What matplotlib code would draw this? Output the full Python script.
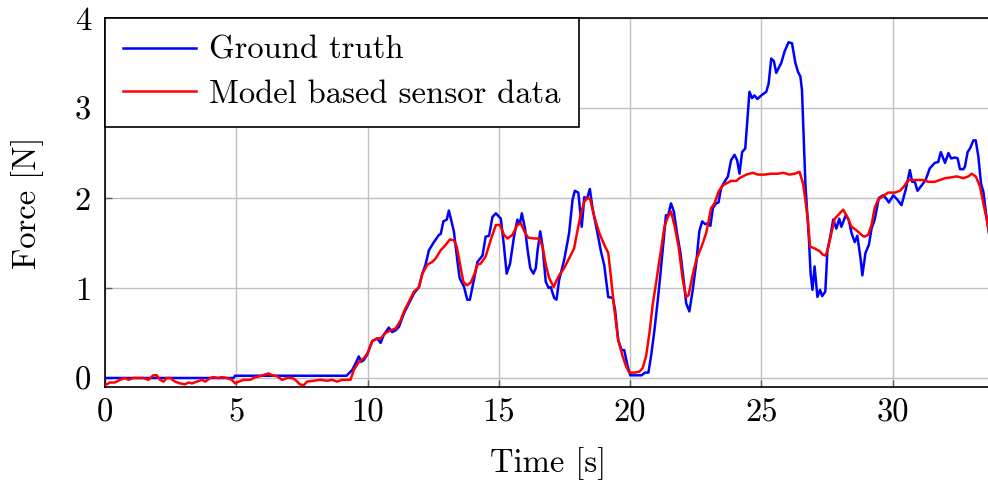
import matplotlib
matplotlib.use("Agg")
import matplotlib.pyplot as plt

# ground truth force
t_truth = [0, 4.9, 4.95, 9.2, 9.42, 9.54, 9.67, 9.76, 9.86, 9.99, 10.18, 10.37, 10.5, 10.62, 10.81, 10.94,
           11.07, 11.2, 11.39, 11.58, 11.77, 11.96, 12.09, 12.21, 12.34, 12.53, 12.72, 12.79, 12.89, 13.02,
           13.1, 13.29, 13.42, 13.51, 13.68, 13.8, 13.9, 14.06, 14.19, 14.38, 14.5, 14.63, 14.76, 14.89,
           15.08, 15.2, 15.3, 15.43, 15.58, 15.71, 15.8, 15.88, 16.0, 16.1, 16.2, 16.32, 16.41, 16.48,
           16.58, 16.67, 16.79, 16.9, 16.98, 17.11, 17.2, 17.3, 17.49, 17.68, 17.81, 17.9, 18.03, 18.16,
           18.26, 18.36, 18.47, 18.57, 18.74, 18.89, 19.02, 19.17, 19.34, 19.43, 19.55, 19.68, 19.78,
           19.91, 20.01, 20.44, 20.57, 20.7, 20.8, 20.93, 21.06, 21.16, 21.29, 21.37, 21.44, 21.56, 21.67,
           21.79, 21.92, 22.05, 22.14, 22.26, 22.39, 22.52, 22.64, 22.75, 22.86, 22.99, 23.06, 23.16,
           23.28, 23.37, 23.47, 23.6, 23.73, 23.85, 23.98, 24.08, 24.17, 24.27, 24.39, 24.47, 24.55,
           24.65, 24.74, 24.85, 25.0, 25.19, 25.28, 25.38, 25.48, 25.57, 25.76, 25.89, 26.04, 26.17,
           26.3, 26.4, 26.49, 26.55, 26.68, 26.81, 26.88, 26.95, 27.03, 27.14, 27.24, 27.32, 27.44,
           27.52, 27.63, 27.74, 27.86, 27.97, 28.05, 28.22, 28.33, 28.44, 28.56, 28.66, 28.79, 28.85,
           28.97, 29.1, 29.2, 29.32, 29.48, 29.64, 29.77, 29.86, 30.03, 30.19, 30.34, 30.5, 30.66,
           30.75, 30.85, 30.95, 31.11, 31.26, 31.42, 31.61, 31.74, 31.84, 32.0, 32.13, 32.23, 32.38,
           32.48, 32.57, 32.7, 32.76, 32.86, 32.95, 33.08, 33.17, 33.27, 33.37, 33.46, 33.56, 33.67, 33.75]
f_truth = [0.0, 0.0, 0.025, 0.025, 0.09, 0.16, 0.24, 0.18, 0.2, 0.26, 0.41, 0.44, 0.39, 0.48, 0.56, 0.51,
           0.53, 0.57, 0.72, 0.83, 0.94, 1.01, 1.16, 1.26, 1.42, 1.51, 1.59, 1.60, 1.74, 1.76,
           1.86, 1.63, 1.31, 1.11, 1.01, 0.87, 0.87, 1.10, 1.29, 1.36, 1.57, 1.58, 1.79, 1.83,
           1.77, 1.46, 1.16, 1.27, 1.57, 1.76, 1.71, 1.83, 1.66, 1.42, 1.22, 1.16, 1.22, 1.42,
           1.63, 1.46, 1.07, 1.0, 1.01, 0.89, 0.87, 1.09, 1.31, 1.61, 1.98, 2.08, 2.06, 1.68,
           2.01, 1.99, 2.10, 1.89, 1.64, 1.41, 1.25, 0.90, 0.89, 0.76, 0.42, 0.31, 0.31,
           0.13, 0.03, 0.03, 0.06, 0.06, 0.24, 0.53, 0.87, 1.16, 1.57, 1.81, 1.79, 1.94, 1.85,
           1.61, 1.39, 1.07, 0.83, 0.74, 0.98, 1.27, 1.63, 1.74, 1.71, 1.72, 1.69, 1.89,
           1.94, 1.95, 2.11, 2.18, 2.24, 2.42, 2.48, 2.42, 2.27, 2.51, 2.55, 2.87, 3.18,
           3.11, 3.14, 3.10, 3.14, 3.18, 3.27, 3.55, 3.52, 3.39, 3.50, 3.63, 3.73, 3.72,
           3.50, 3.40, 3.35, 3.2, 2.16, 1.57, 1.16, 0.98, 1.24, 0.90, 0.98, 0.91, 0.96,
           1.42, 1.57, 1.76, 1.66, 1.77, 1.68, 1.81, 1.76, 1.61, 1.51, 1.58, 1.31, 1.14,
           1.39, 1.48, 1.66, 1.76, 2.0, 2.03, 1.99, 1.95, 2.03, 1.98, 1.92, 2.09, 2.31,
           2.18, 2.18, 2.08, 2.14, 2.2, 2.33, 2.39, 2.40, 2.51, 2.39, 2.50, 2.44, 2.45,
           2.44, 2.32, 2.32, 2.35, 2.51, 2.55, 2.64, 2.64, 2.46, 2.16, 2.07, 1.83, 1.61, 1.52]

# model based sensor data
t_model = [0, 0.19, 0.38, 0.57, 0.76, 0.89, 1.08, 1.46, 1.65, 1.84, 1.97, 2.1, 2.23, 2.35, 2.48, 2.67,
           2.86, 3.05, 3.18, 3.31, 3.5, 3.69, 3.82, 4.01, 4.13, 4.32, 4.45, 4.64, 4.83, 4.96, 5.09,
           5.28, 5.53, 5.73, 5.92, 6.11, 6.23, 6.36, 6.55, 6.74, 6.94, 7.13, 7.25, 7.42, 7.57, 7.7,
           7.95, 8.21, 8.46, 8.65, 8.84, 9.03, 9.35, 9.48, 9.67, 9.86, 9.99, 10.18, 10.37, 10.5,
           10.69, 10.88, 11.07, 11.26, 11.39, 11.58, 11.77, 11.96, 12.09, 12.28, 12.47, 12.6, 12.79,
           12.98, 13.14, 13.29, 13.4, 13.52, 13.65, 13.78, 13.93, 14.08, 14.19, 14.31, 14.5, 14.69,
           14.89, 15.05, 15.2, 15.33, 15.52, 15.71, 15.84, 15.97, 16.12, 16.35, 16.54, 16.67, 16.79,
           16.92, 17.09, 17.21, 17.3, 17.49, 17.68, 17.87, 18.0, 18.13, 18.26, 18.38, 18.48, 18.64,
           18.83, 19.02, 19.17, 19.27, 19.4, 19.55, 19.72, 19.85, 19.97, 20.16, 20.36, 20.48, 20.61,
           20.74, 20.87, 20.99, 21.12, 21.18, 21.31, 21.44, 21.56, 21.69, 21.85, 22.01, 22.14, 22.23,
           22.36, 22.52, 22.75, 22.9, 23.09, 23.22, 23.37, 23.53, 23.66, 23.85, 24.05, 24.17, 24.43,
           24.68, 24.87, 25.13, 25.38, 25.64, 25.83, 26.08, 26.27, 26.46, 26.59, 26.68, 26.78, 26.86,
           27.03, 27.22, 27.35, 27.45, 27.54, 27.67, 27.8, 27.99, 28.12, 28.24, 28.44, 28.63, 28.82,
           28.92, 29.07, 29.2, 29.32, 29.45, 29.64, 29.83, 30.09, 30.28, 30.44, 30.6, 30.85, 31.17,
           31.36, 31.61, 31.81, 32.0, 32.25, 32.44, 32.7, 32.89, 33.01, 33.17, 33.33, 33.46, 33.59,
           33.69, 33.75]
f_model = [-0.08, -0.05, -0.05, -0.02, 0.0, -0.02, 0.0, 0.0, -0.02, 0.03, 0.03, -0.02, -0.04, 0.0, 0.0, -0.04,
           -0.06, -0.07, -0.05, -0.06, -0.04, -0.02, -0.04, 0.0, 0.01, 0.0, 0.01, 0.0, -0.02, -0.06, -0.04,
           -0.02, -0.02, 0.01, 0.02, 0.04, 0.05, 0.03, 0.02, -0.02, 0.0, 0.0, -0.02, -0.07, -0.08, -0.04,
           -0.03, -0.02, -0.03, -0.02, -0.04, -0.02, -0.02, 0.09, 0.18, 0.22, 0.27, 0.41, 0.44, 0.44,
           0.50, 0.53, 0.55, 0.64, 0.74, 0.85, 0.96, 1.01, 1.16, 1.26, 1.29, 1.33, 1.42,
           1.48, 1.54, 1.53, 1.46, 1.27, 1.07, 1.03, 1.06, 1.16, 1.26, 1.27, 1.35, 1.53,
           1.70, 1.70, 1.59, 1.55, 1.59, 1.70, 1.72, 1.63, 1.56, 1.55, 1.55, 1.46, 1.26,
           1.11, 1.01, 1.09, 1.14, 1.22, 1.33, 1.44, 1.64, 1.83, 1.96, 2.0, 1.99, 1.79,
           1.61, 1.48, 1.39, 1.13, 0.77, 0.42, 0.24, 0.13, 0.06, 0.06, 0.07, 0.11, 0.24,
           0.50, 0.83, 1.05, 1.31, 1.42, 1.68, 1.79, 1.85, 1.70, 1.46, 1.09, 0.90, 0.92,
           1.11, 1.31, 1.48, 1.61, 1.89, 1.94, 2.07, 2.14, 2.16, 2.19, 2.19, 2.22, 2.26,
           2.28, 2.26, 2.26, 2.27, 2.27, 2.28, 2.26, 2.27, 2.29, 2.16, 1.98, 1.74, 1.46,
           1.44, 1.41, 1.37, 1.36, 1.44, 1.61, 1.77, 1.83, 1.87, 1.81, 1.68, 1.64, 1.59,
           1.57, 1.59, 1.70, 1.89, 1.98, 2.02, 2.06, 2.06, 2.08, 2.13, 2.2, 2.2, 2.2,
           2.18, 2.18, 2.2, 2.22, 2.23, 2.24, 2.22, 2.24, 2.27, 2.24, 2.13, 1.94, 1.76,
           1.59, 1.52]

x_ticks = [0, 5, 10, 15, 20, 25, 30]
y_ticks = [0, 1, 2, 3, 4]

plt.rcParams['font.family'] = 'cmr10'
plt.rcParams['axes.unicode_minus'] = False
plt.rcParams['font.size'] = 23.5

fig = plt.figure(figsize=(9.88, 4.82), dpi=100)
ax = fig.add_axes([105 / 988, 1 - 387 / 482, 1.003 - 105 / 988, (387 - 18) / 482])

ax.plot(t_truth, f_truth, color='#0000ff', lw=1.8, label='Ground truth', zorder=3)
ax.plot(t_model, f_model, color='#ff0000', lw=1.8, label='Model based sensor data', zorder=4)

ax.set_xlim(0, 33.75)
ax.set_ylim(-0.1, 4)
ax.set_xticks(x_ticks)
ax.set_yticks(y_ticks)
ax.grid(True, color='#c0c0c0', lw=1.0)
ax.set_axisbelow(True)
ax.tick_params(direction='in', length=5, width=1, color='#606060')
ax.tick_params(axis='x', pad=8)
ax.tick_params(axis='y', pad=10)
for s in ax.spines.values():
    s.set_linewidth(1.2)
    s.set_color('black')

ax.set_xlabel('Time [s]', labelpad=14)
ax.set_ylabel('Force [N]', labelpad=22)

leg = ax.legend(loc='upper left', bbox_to_anchor=(0, 1), borderaxespad=0, fancybox=False,
                edgecolor='black', framealpha=1, handlelength=2.25, handletextpad=0.4,
                labelspacing=0.45, borderpad=0.55)
leg.get_frame().set_linewidth(1.2)

fig.savefig('out.png', dpi=100)
